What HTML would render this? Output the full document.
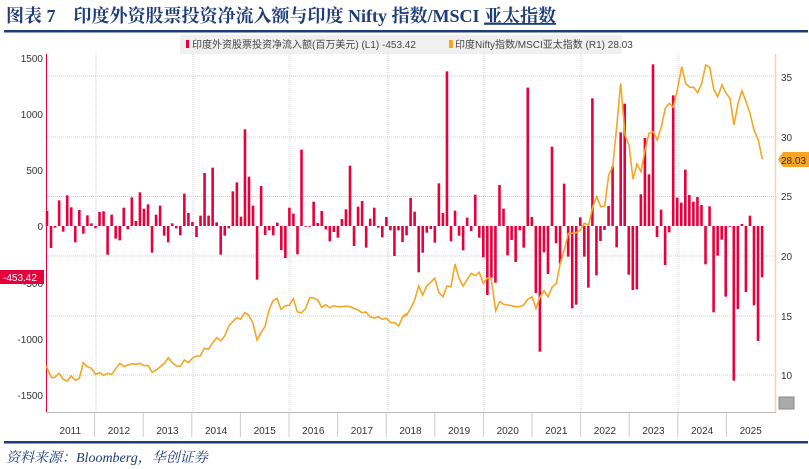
<!DOCTYPE html>
<html><head><meta charset="utf-8"><style>
body{margin:0;width:809px;height:469px;background:#fff;overflow:hidden;font-family:"Liberation Sans","Noto Sans CJK SC",sans-serif}
svg{position:absolute;left:0;top:0}
</style></head><body>
<svg id="s" width="809" height="469" xmlns="http://www.w3.org/2000/svg">
<text x="6" y="22" font-family="Liberation Serif,'Noto Serif CJK SC',serif" font-weight="bold" font-size="18" fill="#1F3C7A">图表 7　印度外资股票投资净流入额与印度 Nifty 指数/MSCI <tspan text-decoration="underline">亚太指数</tspan></text>
<rect x="4" y="30" width="804" height="2.5" fill="#1F3C7A"/>
<rect x="180" y="35" width="442" height="19" fill="#f0f0f0"/>
<rect x="186" y="40" width="3" height="8" fill="#E8003D"/>
<text x="192" y="48" font-size="10" fill="#444">印度外资股票投资净流入额(百万美元) (L1) -453.42</text>
<rect x="449" y="40" width="4" height="8" fill="#F5A623"/>
<text x="455" y="48" font-size="10" fill="#444">印度Nifty指数/MSCI亚太指数 (R1) 28.03</text>
<g id="grid" stroke="#ccc" stroke-dasharray="1,1" stroke-width="1"></g>
<line x1="46.5" y1="54" x2="46.5" y2="412" stroke="#E8003D" stroke-width="1"/>
<line x1="775.5" y1="54" x2="775.5" y2="412" stroke="#F7D6A0" stroke-width="1.5"/>
<line x1="46" y1="412.5" x2="776" y2="412.5" stroke="#bbb"/>
<g font-size="10" fill="#333" text-anchor="end">
<text x="43" y="62">1500</text><text x="43" y="118">1000</text><text x="43" y="174">500</text><text x="43" y="230">0</text><text x="43" y="287">-500</text><text x="43" y="343">-1000</text><text x="43" y="399">-1500</text>
</g>
<g font-size="10" fill="#333">
<text x="781" y="81">35</text><text x="781" y="141">30</text><text x="781" y="200">25</text><text x="781" y="260">20</text><text x="781" y="320">15</text><text x="781" y="379">10</text>
</g>
<g id="bars" fill="#E8003D"></g>
<polyline id="ln" fill="none" stroke="#F5A623" stroke-width="1.6"/>
<path d="M0 270 H44 V284 H0 Z" fill="#E8003D"/>
<text x="3" y="281" font-size="10" fill="#fff">-453.42</text>
<path d="M778 159.5 L783 152 H809 V167 H783 Z" fill="#F5A623"/>
<text x="781" y="164" font-size="10" fill="#333">28.03</text>
<rect x="779" y="397" width="15" height="12" fill="#aaa" stroke="#888"/>
<g id="years" font-size="10" fill="#333" text-anchor="middle"></g>
<rect x="4" y="441" width="804" height="2.5" fill="#1F3C7A"/>
<text x="6" y="462" font-family="Liberation Serif,'Noto Serif CJK SC',serif" font-style="italic" font-size="14" fill="#1F3C7A">资料来源：Bloomberg，华创证券</text>
</svg>
<script>
var NS="http://www.w3.org/2000/svg",s=document.getElementById('s');
function el(p,t,a){var e=document.createElementNS(NS,t);for(var k in a)e.setAttribute(k,a[k]);document.getElementById(p).appendChild(e);return e;}
[76,137,196.5,256,316,375].forEach(function(y){el('grid','line',{x1:47,x2:775,y1:y,y2:y});});
[96,193,290,388,484,581,678].forEach(function(x){el('grid','line',{x1:x,x2:x,y1:54,y2:412});});
var yrs=["2011","2012","2013","2014","2015","2016","2017","2018","2019","2020","2021","2022","2023","2024","2025"];
for(var i=0;i<15;i++){var x0=46+48.6*i;el('years','text',{x:x0+24.3,y:434}).textContent=yrs[i];if(i>0)el('grid','line',{x1:x0,x2:x0,y1:413,y2:437,'stroke-dasharray':'none','stroke':'#ccc'});}
var b=[45,-66,-5,77,-17,92,56,-49,48,-23,32,8,-7,42,44,-86,34,-38,-43,55,-10,86,15,101,52,65,-80,34,61,-29,-49,8,-7,-28,97,39,12,-33,31,159,31,175,11,-86,-29,-7,104,131,28,290,148,61,-161,120,-27,-13,-28,10,-72,-96,55,37,-85,229,-2,-2,73,9,45,-10,-46,-18,-35,21,50,181,-60,58,75,-65,22,55,-5,-34,27,-13,-90,-13,-48,-28,
84,43,-139,-80,-20,-9,-50,128,39,464,-46,46,-29,-73,25,-15,94,-35,-94,-207,-155,-170,123,52,-88,-42,-108,-13,-65,415,27,-201,-377,-79,-144,238,-52,-113,127,-92,-247,-236,26,-92,-185,383,-148,-45,-12,60,179,-64,281,367,-146,-192,-190,95,264,155,485,-33,49,-117,-19,392,85,70,169,93,73,87,63,-115,59,-259,-89,-41,-212,-2,-464,-249,6,-198,31,-238,-345,-154];
b.forEach(function(v,i){var x=47+4.04*i-1.3,h=Math.abs(v)/3;if(h<0.8)h=0.8;el('bars','rect',{x:x,width:2.6,y:v>0?226-h:226,height:h});});
var l4=[[18,948],[35,983],[45,982],[57,970],[70,988],[82,993],[94,978],[106,991],[118,985],[130,938],[142,950],[154,955],[167,973],[179,968],[191,976],[203,970],[215,973],[228,955],[240,940],[252,950],[264,945],[276,941],[288,943],[300,940],[312,947],[324,946],[337,967],[349,960],[361,950],[373,940],[385,923],[397,938],[409,948],[421,949],[433,930],[445,938],[457,925],[469,918],[481,918],[493,895],[505,898],[517,880],[530,863],[542,872],[554,858],[566,828],[578,815],[590,803],[602,808],[614,788],[626,795],[639,820],[651,870],[663,848],[675,830],[687,780],[699,752],[711,745],[723,778],[735,768],[748,766],[760,746],[772,785],[784,789],[797,775],[809,743],[821,744],[833,750],[845,772],[857,764],[869,773],[881,767],[894,770],[906,770],[918,768],[930,770],[942,775],[954,780],[966,788],[978,786],[990,800],[1003,804],[1015,800],[1027,808],[1039,805],[1052,818],[1064,818],[1076,828],[1088,800],[1100,790]];
var l5=[[10,800],[20,795],[32,775],[44,750],[56,708],[68,735],[80,708],[92,697],[104,685],[117,728],[129,740],[141,708],[153,710],[165,642],[177,685],[189,708],[202,688],[214,670],[226,677],[238,667],[250,700],[262,684],[274,688],[287,782],[299,755],[311,763],[323,765],[335,767],[347,770],[359,770],[371,765],[383,748],[396,740],[408,775],[420,740],[432,722],[444,740],[457,710],[469,700],[481,640],[493,600],[505,550],[517,550],[529,548],[541,540],[553,520],[566,525],[578,470],[590,440],[602,470],[614,468],[626,375],[638,350],[650,230],[662,100],[675,255],[687,285],[699,388],[711,342],[723,365],[735,300],[747,250],[760,245],[772,270],[784,230],[796,175],[808,160],[820,172],[832,120],[845,50],[857,100],[869,112],[881,112],[893,128],[905,100],[917,45],[929,52],[941,118],[953,140],[966,105],[978,130],[990,145],[1002,225],[1014,160],[1026,122],[1038,155],[1050,190],[1062,240],[1075,270],[1087,328]];
var pts=l4.map(function(p){return (40+p[0]/3).toFixed(1)+','+(50+p[1]/3).toFixed(1);}).concat(l5.map(function(p){return (400+p[0]/3).toFixed(1)+','+(50+p[1]/3).toFixed(1);}));
document.getElementById('ln').setAttribute('points',pts.join(' '));
</script>
</body></html>
